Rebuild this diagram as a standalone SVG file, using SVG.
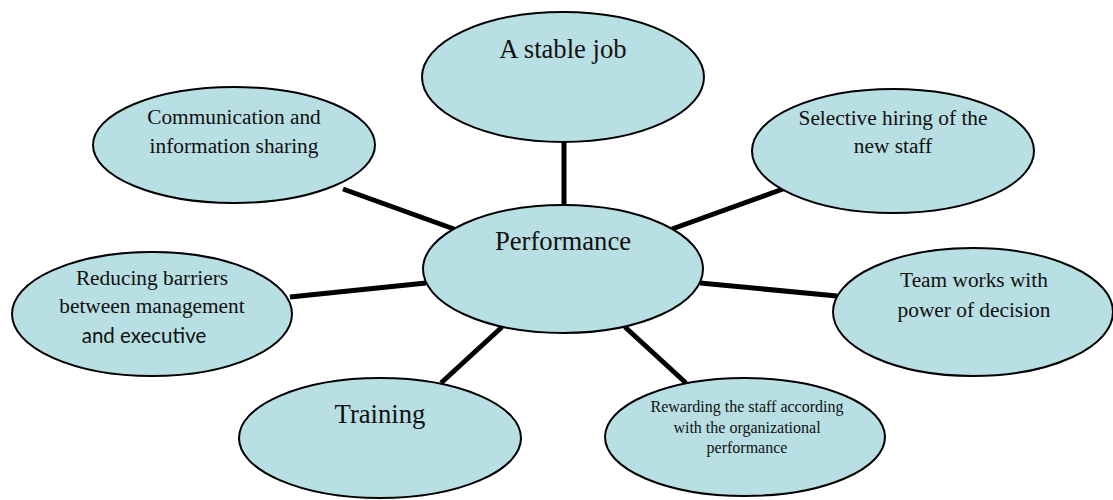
<svg xmlns="http://www.w3.org/2000/svg" width="1113" height="500" viewBox="0 0 1113 500">
<style>
.n{fill:#b8dfe3;stroke:#000;stroke-width:2}
.t{font-family:'Liberation Serif','Times New Roman',serif;fill:#111;text-anchor:middle}
.s{font-family:Lato,'Liberation Sans',sans-serif;fill:#111;text-anchor:middle}
.c{stroke:#000;stroke-width:5;fill:none}
</style>
<rect width="1113" height="500" fill="#fff"/>
<g id="connectors">
<line class="c" x1="564" y1="142" x2="564" y2="206"/>
<line class="c" x1="343" y1="189" x2="454" y2="229"/>
<line class="c" x1="783" y1="189" x2="672" y2="229"/>
<line class="c" x1="290" y1="297" x2="426" y2="283"/>
<line class="c" x1="700" y1="283" x2="837" y2="296"/>
<line class="c" x1="502" y1="327" x2="441" y2="383"/>
<line class="c" x1="625" y1="327" x2="686" y2="383"/>
</g>
<g id="stable">
<ellipse class="n" cx="563" cy="77" rx="141" ry="65"/>
<text class="t" x="563" y="58" font-size="26.67">A stable job</text>
</g>
<g id="performance">
<ellipse class="n" cx="563" cy="269" rx="140" ry="64"/>
<text class="t" x="563" y="250" font-size="26.67">Performance</text>
</g>
<g id="communication">
<ellipse class="n" cx="234" cy="145" rx="141" ry="58"/>
<text class="t" x="234" y="124" font-size="21.33">Communication and</text>
<text class="t" x="234" y="153" font-size="21.33">information sharing</text>
</g>
<g id="selective">
<ellipse class="n" cx="893" cy="151" rx="141" ry="62"/>
<text class="t" x="893" y="125" font-size="21.33">Selective hiring of the</text>
<text class="t" x="893" y="153" font-size="21.33">new staff</text>
</g>
<g id="reducing">
<ellipse class="n" cx="152" cy="314" rx="140" ry="62"/>
<text class="t" x="152" y="285" font-size="21.33">Reducing barriers</text>
<text class="t" x="152" y="313" font-size="21.33">between management</text>
<text class="s" x="144" y="343" font-size="20.5">and executive</text>
</g>
<g id="team">
<ellipse class="n" cx="973" cy="312" rx="140" ry="64"/>
<text class="t" x="974" y="287" font-size="21.33">Team works with</text>
<text class="t" x="974" y="317" font-size="21.33">power of decision</text>
</g>
<g id="training">
<ellipse class="n" cx="380" cy="438" rx="141" ry="60"/>
<text class="t" x="380" y="423" font-size="26.67">Training</text>
</g>
<g id="rewarding">
<ellipse class="n" cx="745" cy="437" rx="140" ry="59"/>
<text class="t" x="747" y="412" font-size="16">Rewarding the staff according</text>
<text class="t" x="747" y="433" font-size="16">with the organizational</text>
<text class="t" x="747" y="453" font-size="16">performance</text>
</g>
</svg>
